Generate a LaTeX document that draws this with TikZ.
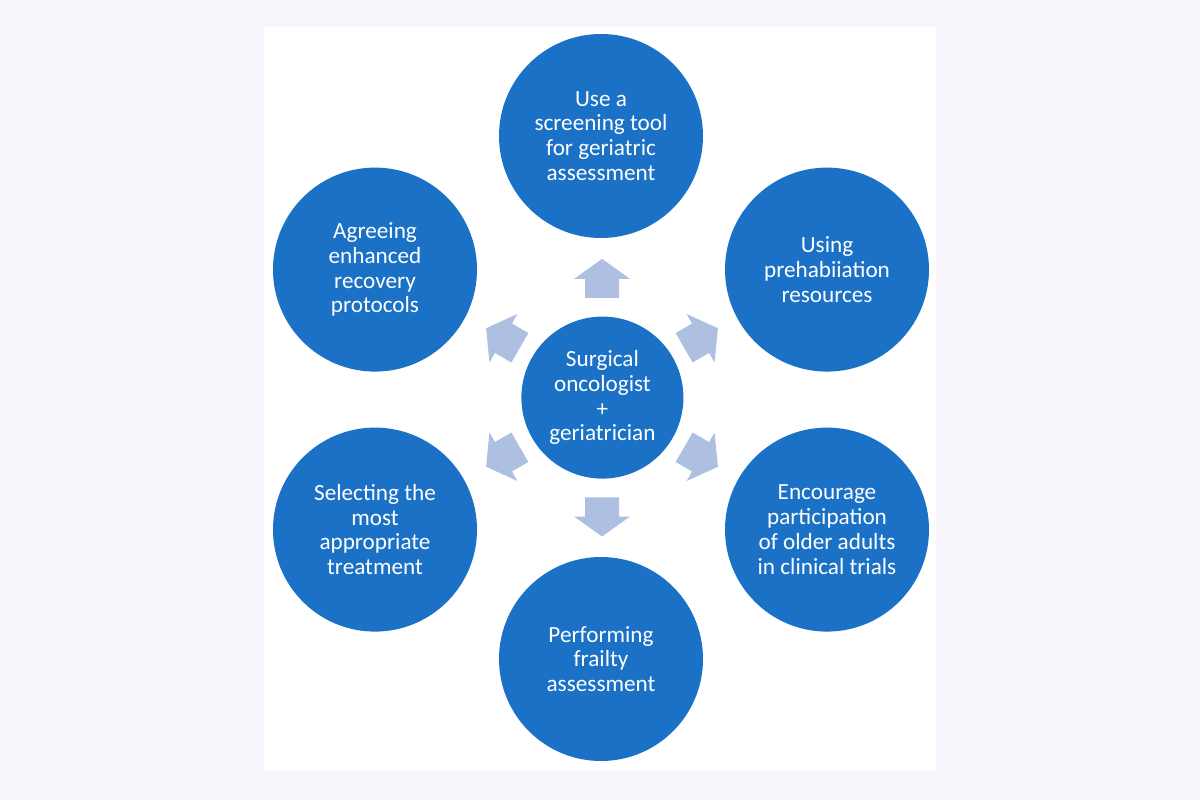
\documentclass[tikz,border=0pt]{standalone}
\usepackage{fontspec}
\setmainfont{Carlito}
\usetikzlibrary{arrows.meta}
\definecolor{diskblue}{HTML}{1A71C6}
\definecolor{arrowblue}{HTML}{AEC0E2}
\definecolor{pagebg}{HTML}{F8F6FC}

\begin{document}
\begin{tikzpicture}[font={\fontsize{16.5}{17.6}\selectfont},
  disk/.style={circle,fill=diskblue,text=white,align=center,minimum size=5.1cm,inner sep=0pt},
  hub/.style={disk,minimum size=4.05cm},
  blockarrow/.pic={\fill[arrowblue] (-0.4875,-0.425) -- (-0.0125,-0.425) -- (-0.0125,-0.7) -- (0.4875,0) -- (-0.0125,0.7) -- (-0.0125,0.425) -- (-0.4875,0.425) -- cycle;}]
\fill[pagebg] (0,0) rectangle (30,20);
\fill[white] (6.6,0.75) rectangle (23.4,19.325);
% hub and the six tasks
\node[hub] (hub) at (15.06,10.06) {Surgical\\oncologist\\+\\geriatrician};
\node[disk] (screen) at (15.025,16.6) {Use a\\screening tool\\for geriatric\\assessment};
\node[disk] (prehab) at (20.675,13.26) {Using\\prehabiiation\\resources};
\node[disk] (trials) at (20.675,6.76) {Encourage\\participation\\of older adults\\in clinical trials};
\node[disk] (frailty) at (15.025,3.525) {Performing\\frailty\\assessment};
\node[disk] (treat) at (9.375,6.76) {Selecting the\\most\\appropriate\\treatment};
\node[disk] (eras) at (9.375,13.26) {Agreeing\\enhanced\\recovery\\protocols};
% block arrows out of the hub
\pic[rotate=90] at (15.05,13.04) {blockarrow};
\pic[rotate=30] at (17.525,11.55) {blockarrow};
\pic[rotate=-30] at (17.525,8.575) {blockarrow};
\pic[rotate=-90] at (15.05,7.075) {blockarrow};
\pic[rotate=-150] at (12.575,8.575) {blockarrow};
\pic[rotate=150] at (12.575,11.55) {blockarrow};
\end{tikzpicture}
\end{document}
